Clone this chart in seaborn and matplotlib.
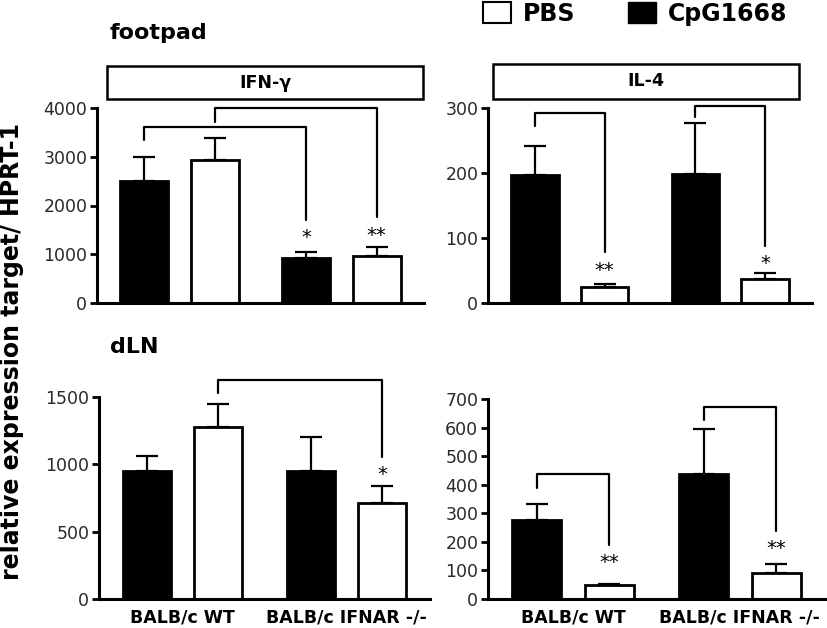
import matplotlib
matplotlib.use("Agg")
import matplotlib.pyplot as plt
from matplotlib.patches import Patch, Rectangle
import numpy as np
import pandas as pd
import seaborn as sns

groups = ["BALB/c WT", "BALB/c IFNAR -/-"]
treatments = ["CpG1668", "PBS"]

# bar order: WT CpG, WT PBS, IFNAR CpG, IFNAR PBS
footpad_ifng_mean = [2500, 2930, 930, 970]
footpad_ifng_sem = [500, 460, 115, 180]
footpad_il4_mean = [197, 25, 198, 37]
footpad_il4_sem = [44, 5, 79, 9]
dln_ifng_mean = [950, 1280, 950, 715]
dln_ifng_sem = [110, 170, 250, 125]
dln_il4_mean = [275, 48, 437, 90]
dln_il4_sem = [57, 4, 157, 32]

# significance brackets: (left bar, right bar, top, left end, right end, stars)
footpad_ifng_sig = [(0, 2, 3610, 3340, 1700, "*"), (1, 3, 4000, 3710, 1760, "**")]
footpad_il4_sig = [(0, 1, 292, 272, 78, "**"), (2, 3, 303, 286, 88, "*")]
dln_ifng_sig = [(1, 3, 1626, 1530, 1054, "*")]
dln_il4_sig = [(0, 1, 437, 388, 189, "**"), (2, 3, 672, 626, 238, "**")]

W, H = 828, 628


def fig_box(x0, y0, x1, y1):
    # pixel box (top-left origin) -> figure fraction [l, b, w, h]
    return [x0 / W, 1 - y1 / H, (x1 - x0) / W, (y1 - y0) / H]


sns.set_style("ticks")
plt.rcParams["font.family"] = ["DejaVu Sans"]
plt.rcParams["text.color"] = "black"
plt.rcParams["axes.labelcolor"] = "black"

fig = plt.figure(figsize=(W / 100, H / 100), dpi=100)

panels = [
    (footpad_ifng_mean, footpad_ifng_sem, footpad_ifng_sig, [0, 1000, 2000, 3000, 4000],
     (97, 108, 424, 303), "IFN-γ", (107, 66, 423, 99), False),
    (footpad_il4_mean, footpad_il4_sem, footpad_il4_sig, [0, 100, 200, 300],
     (488, 108, 812, 303), "IL-4", (493, 64, 799, 99), False),
    (dln_ifng_mean, dln_ifng_sem, dln_ifng_sig, [0, 500, 1000, 1500],
     (99, 397, 430, 599), None, None, True),
    (dln_il4_mean, dln_il4_sem, dln_il4_sig, [0, 100, 200, 300, 400, 500, 600, 700],
     (488, 399, 825, 599), None, None, True),
]

for mean, sem, sig, yticks, box, strip, strip_box, show_x in panels:
    ax = fig.add_axes(fig_box(*box))
    df = pd.DataFrame({
        "group": np.repeat(groups, 2),
        "treatment": treatments * 2,
        "value": mean,
    })
    sns.barplot(data=df, x="group", y="value", hue="treatment", order=groups,
                hue_order=treatments, palette={"CpG1668": "black", "PBS": "white"},
                edgecolor="black", linewidth=2, width=0.87, gap=0.32,
                errorbar=None, legend=False, ax=ax)
    bars = [ax.containers[0][0], ax.containers[1][0], ax.containers[0][1], ax.containers[1][1]]
    centers = [b.get_x() + b.get_width() / 2 for b in bars]
    ax.errorbar(centers, mean, yerr=[np.zeros(4), sem], fmt="none", ecolor="black",
                elinewidth=1.6, capsize=8, capthick=1.6)

    for a, b, top, end_a, end_b, stars in sig:
        xa, xb = centers[a], centers[b]
        ax.plot([xa, xa, xb, xb], [end_a, top, top, end_b], color="black", lw=1.6, clip_on=False)
        ax.annotate(stars, (xb, end_b), xytext=(0, -6), textcoords="offset points",
                    ha="center", va="top", fontsize=14, color="black")

    ax.set_xlim(-0.51, 1.51)
    ax.set_ylim(0, yticks[-1])
    ax.set_yticks(yticks)
    sns.despine(ax=ax)
    for side in ["left", "bottom"]:
        ax.spines[side].set_linewidth(2.2)
        ax.spines[side].set_color("black")
    ax.tick_params(axis="y", length=5, width=2, color="black", labelsize=12.5,
                   labelcolor="#2a2a2a", pad=2)
    ax.tick_params(axis="x", length=0, labelsize=12.5, labelcolor="black", pad=7)
    ax.set_xlabel("")
    ax.set_ylabel("")
    if show_x:
        for lbl in ax.get_xticklabels():
            lbl.set_fontweight("bold")
    else:
        ax.set_xticklabels([])

    if strip is not None:
        x0, y0, x1, y1 = strip_box
        fig.add_artist(Rectangle((x0 / W, 1 - y1 / H), (x1 - x0) / W, (y1 - y0) / H,
                                 transform=fig.transFigure, fill=False, lw=1.8, ec="black"))
        fig.text((x0 + x1) / 2 / W, 1 - (y0 + y1) / 2 / H, strip, ha="center", va="center",
                 fontsize=12.5, fontweight="bold")

fig.text(110 / W, 1 - 33 / H, "footpad", fontsize=16, fontweight="bold", va="center")
fig.text(110 / W, 1 - 347 / H, "dLN", fontsize=16, fontweight="bold", va="center")
fig.text(12 / W, 1 - 352 / H, "relative expression target/ HPRT-1", rotation=90,
         ha="center", va="center", fontsize=17, fontweight="bold")

handles = [Patch(facecolor="white", edgecolor="black", linewidth=1.5, label="PBS"),
           Patch(facecolor="black", edgecolor="black", label="CpG1668")]
fig.legend(handles=handles, loc="upper left", bbox_to_anchor=(483 / W, 1 - 2 / H), ncol=2,
           frameon=False, prop={"size": 17, "weight": "bold"}, handlelength=1.2,
           handleheight=1.0, handletextpad=0.5, columnspacing=2.2, borderpad=0,
           borderaxespad=0)

fig.savefig("out.png", dpi=100)
